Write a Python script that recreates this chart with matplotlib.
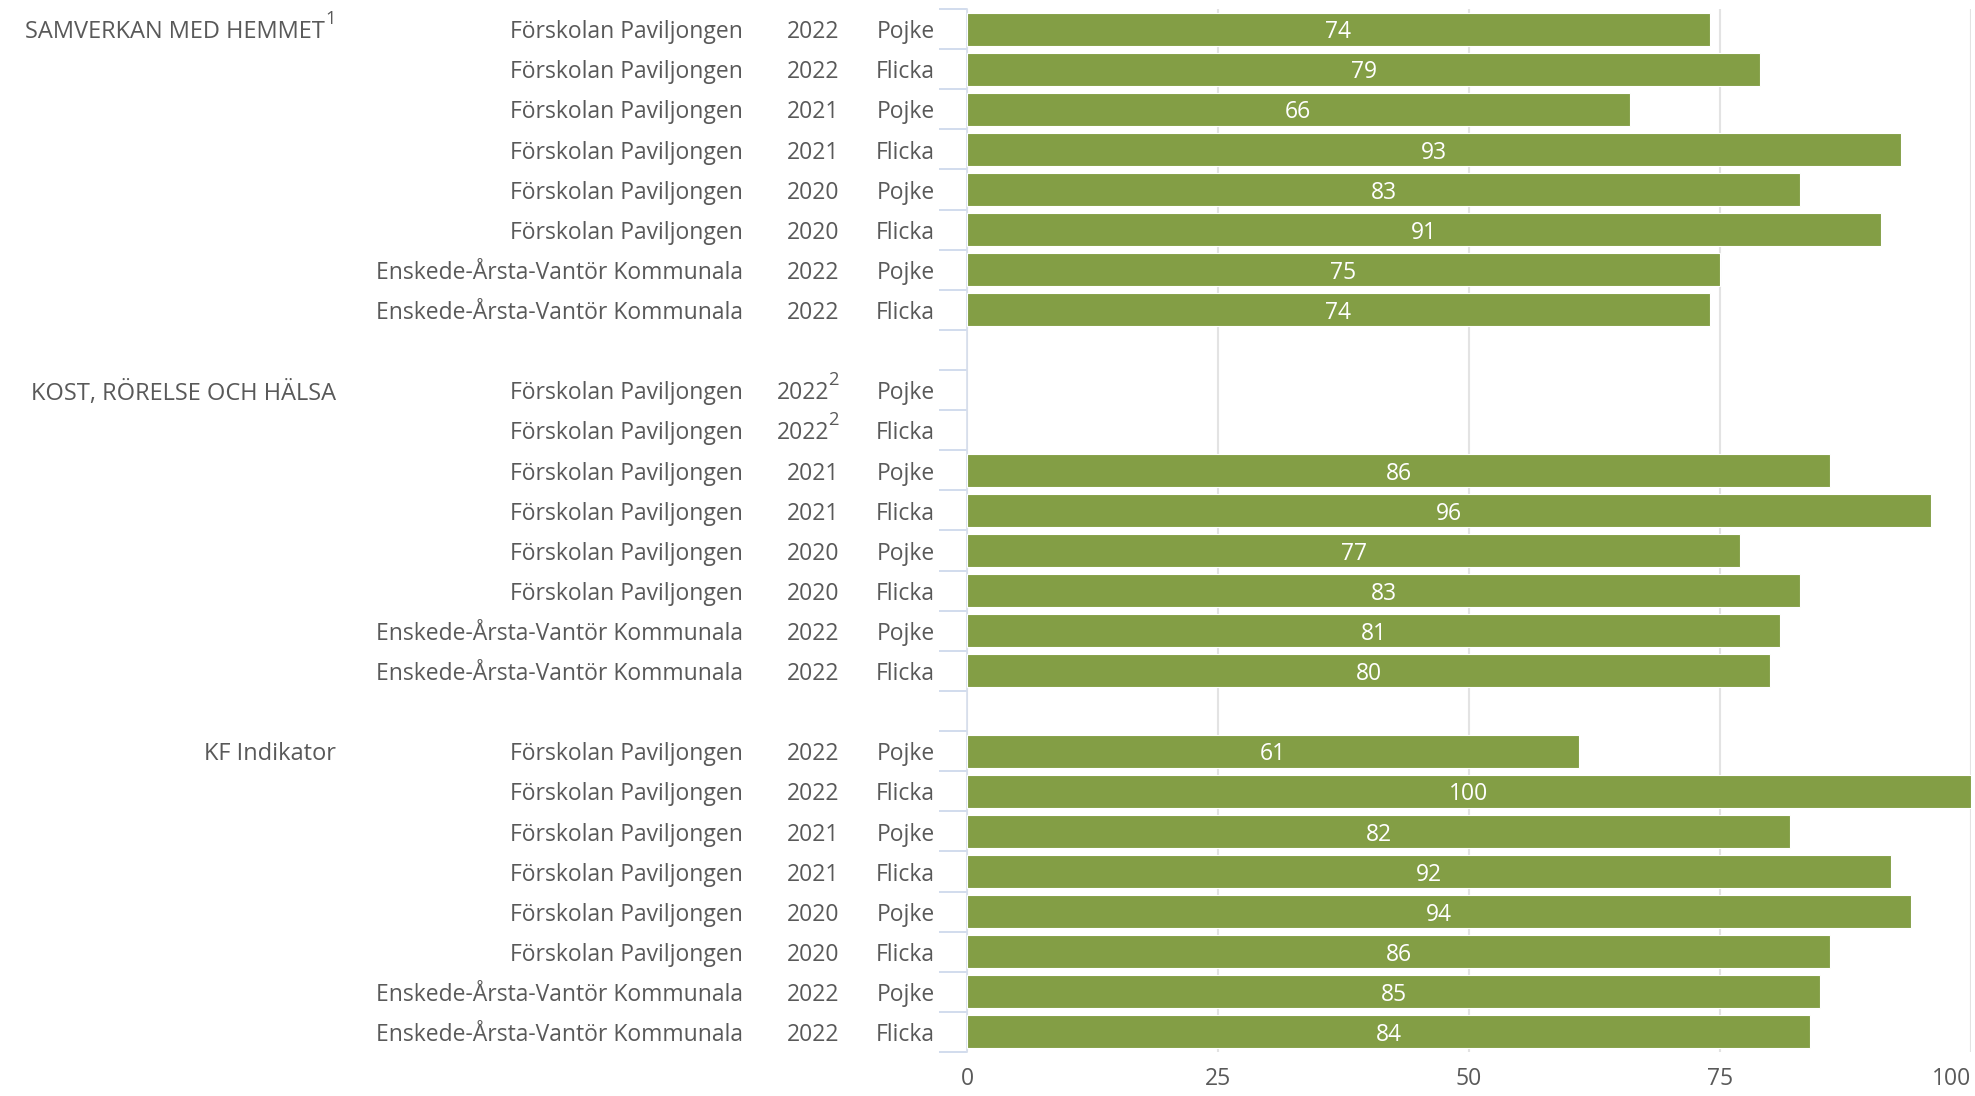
import numpy as np
import matplotlib
matplotlib.use('Agg')
import matplotlib.pyplot as plt
import matplotlib.transforms as mtransforms

plt.rcParams['font.family'] = ['Open Sans', 'DejaVu Sans']

# data
groups = ['SAMVERKAN MED HEMMET', 'KOST, RÖRELSE OCH HÄLSA', 'KF Indikator']
group_notes = ['1', '', '']
schools = ['Förskolan Paviljongen'] * 6 + ['Enskede-Årsta-Vantör Kommunala'] * 2
years = ['2022', '2022', '2021', '2021', '2020', '2020', '2022', '2022']
genders = ['Pojke', 'Flicka'] * 4
values = [
    [74, 79, 66, 93, 83, 91, 75, 74],
    [np.nan, np.nan, 86, 96, 77, 83, 81, 80],
    [61, 100, 82, 92, 94, 86, 85, 84],
]
# footnote mark on year for missing rows
year_notes = [
    [''] * 8,
    ['2', '2', '', '', '', '', '', ''],
    [''] * 8,
]
xticks = [0, 25, 50, 75, 100]

bar_color = '#839E45'
text_color = '#595959'
fs = 16.5
dy = 0.08  # small nudge so text sits on the bar centre

fig = plt.figure(figsize=(19.75, 10.96), dpi=100)
ax = fig.add_axes([967 / 1975, 1 - 1052 / 1096, (1971 - 967) / 1975, 1043 / 1096])

tr = mtransforms.blended_transform_factory(fig.transFigure, ax.transData)
n_rows = len(schools)
pos = 0
for g, grp in enumerate(groups):
    for i in range(n_rows):
        y = pos + i
        v = values[g][i]
        if not np.isnan(v):
            ax.barh(y, v, height=0.82, color=bar_color, edgecolor='white', linewidth=0.8, zorder=3)
            ax.text(v / 2, y + dy, f'{v:g}', color='white', ha='center', va='center',
                    fontsize=fs, zorder=4)
        ax.text(743 / 1975, y + dy, schools[i], transform=tr, ha='right', va='center',
                fontsize=fs, color=text_color)
        note = year_notes[g][i]
        if note:
            ax.text(829 / 1975, y + dy, years[i], transform=tr, ha='right', va='center',
                    fontsize=fs, color=text_color)
            ax.text(828 / 1975, y - 0.25, note, transform=tr, ha='left', va='center',
                    fontsize=fs * 0.8, color=text_color)
        else:
            ax.text(839 / 1975, y + dy, years[i], transform=tr, ha='right', va='center',
                    fontsize=fs, color=text_color)
        ax.text(935 / 1975, y + dy, genders[i], transform=tr, ha='right', va='center',
                fontsize=fs, color=text_color)
    # group label
    if group_notes[g]:
        ax.text(325 / 1975, pos + dy, grp, transform=tr, ha='right', va='center',
                fontsize=fs + 0.5, color=text_color)
        ax.text(325 / 1975, pos - 0.25, group_notes[g], transform=tr, ha='left', va='center',
                fontsize=fs * 0.8, color=text_color)
    else:
        ax.text(336 / 1975, pos + dy, grp, transform=tr, ha='right', va='center',
                fontsize=fs + 0.5, color=text_color)
    pos += n_rows + 1

total = pos - 1
ax.set_xlim(0, 100)

# y ticks at row boundaries
ax.set_yticks(np.arange(-0.5, total, 1.0))
ax.set_yticklabels([])
ax.set_ylim(total - 0.5, -0.5)
ax.tick_params(axis='y', length=20, width=1.2, color='#C9D5EA')
ax.set_xticks(xticks)
labels = ax.set_xticklabels([str(t) for t in xticks], fontsize=fs, color=text_color)
labels[-1].set_ha('right')
ax.tick_params(axis='x', length=0, pad=11)

for s in ['top', 'right', 'bottom']:
    ax.spines[s].set_visible(False)
ax.spines['left'].set_color('#D6DEEC')
ax.spines['left'].set_linewidth(1.2)

ax.grid(axis='x', color='#E3E3E3', linewidth=1.5, zorder=0)
ax.set_axisbelow(True)

fig.savefig('out.png', dpi=100, facecolor='white')
